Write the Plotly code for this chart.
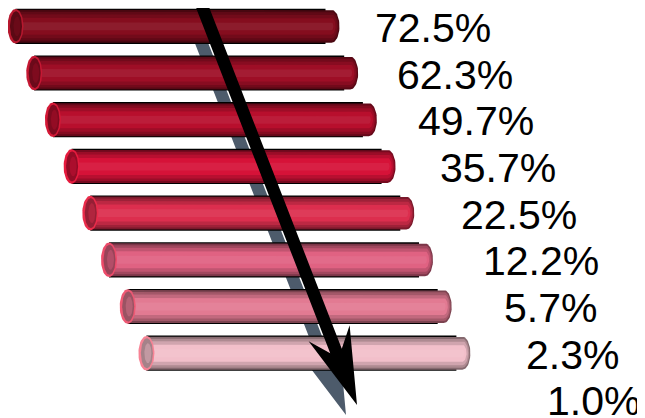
import numpy as np
import plotly.graph_objects as go

# ---- data ----
values = [72.5, 62.3, 49.7, 35.7, 22.5, 12.2, 5.7, 2.3, 1.0]
labels = [f"{v:.1f}%" for v in values]
n_bars = 8  # only the first eight rows carry a cylinder

# ---- styles ----
bar_colors = ["#850d1e", "#9e0e26", "#b80f2d", "#d61238", "#dc2e4e",
              "#e06282", "#e27a92", "#f2bfca"]
W, H = 645, 418
PAGE_M = 8  # default body margin of the html page
row0, row_step = 26.3, 46.7
left0, left_step = 7.5, 18.7
bar_len = 332
cap_rx = 8
label_x0, label_step = 373, 21.5


def hex2rgb(h):
    h = h.lstrip("#")
    return np.array([int(h[i:i + 2], 16) for i in (0, 2, 4)], float)


def mix(c, other, t):
    a = hex2rgb(c)
    b = np.array(other, float)
    r = a * (1 - t) + b * t
    return "rgb(%d,%d,%d)" % tuple(np.clip(r, 0, 255).round())


def ellipse(cx, cy, rx, ry, n=60):
    t = np.linspace(0, 2 * np.pi, n)
    return list(cx + rx * np.cos(t)), list(cy + ry * np.sin(t))


def body(cx, rc, yc, h, rx):
    t = np.linspace(-np.pi / 2, np.pi / 2, 30)
    xs = [cx] + list(rc + rx * np.cos(t)) + [cx, cx]
    ys = [yc - h] + list(yc + h * np.sin(t)) + [yc + h, yc - h]
    return xs, ys


def poly_trace(xs, ys, color):
    return go.Scatter(x=xs, y=ys, mode="lines", fill="toself",
                      fillcolor=color, line=dict(width=0, color=color),
                      hoverinfo="skip", showlegend=False)


fig = go.Figure()

# ---- arrow geometry ----
S = np.array([202.0, 6.0])
T = np.array([357.0, 405.0])
u = (T - S) / np.linalg.norm(T - S)
nrm = np.array([u[1], -u[0]])
hw = 6.2
L = np.linalg.norm(T - S)


def arrow_pts(off):
    pts = [
        S + hw * nrm,
        S + (L - 58) * u + hw * nrm,
        S + (L - 77) * u + 22 * nrm,
        T,
        S + (L - 77) * u - 22 * nrm,
        S + (L - 58) * u - hw * nrm,
        S - hw * nrm,
        S + hw * nrm,
    ]
    pts = [p + off for p in pts]
    return [p[0] for p in pts], [p[1] for p in pts]


# shadow (behind bars)
sx, sy = arrow_pts(np.array([-11.0, 10.0]))
fig.add_trace(poly_trace(sx, sy, "#4d5b6b"))

# ---- cylinders ----
layers = [(16.5, 0.45, 0), (14.5, 0.28, 0), (12.0, 0.14, 0), (8.5, 0.0, 0), (4.0, 0.06, 1)]
for i in range(n_bars):
    c = bar_colors[i]
    yc = row0 + row_step * i
    left = left0 + left_step * i
    cx = left + cap_rx
    rc = left + bar_len - cap_rx
    # black top/bottom edge lines
    fig.add_trace(poly_trace([cx, rc - 6, rc - 6, cx, cx],
                             [yc - 17.6, yc - 17.6, yc + 17.6, yc + 17.6, yc - 17.6],
                             "#000000"))
    for h, t, kind in layers:
        col = mix(c, (255, 255, 255) if kind else (0, 0, 0), t)
        xs, ys = body(cx, rc, yc, h, cap_rx * h / 16.5)
        fig.add_trace(poly_trace(xs, ys, col))
    # left open end
    ex, ey = ellipse(cx, yc, cap_rx, 17.3)
    fig.add_trace(poly_trace(ex, ey, mix(c, (255, 40, 70), 0.4)))
    ex, ey = ellipse(cx + 0.5, yc, cap_rx - 2, 15.0)
    fig.add_trace(poly_trace(ex, ey, mix(c, (0, 0, 0), 0.32)))
    ex, ey = ellipse(cx + 1.5, yc, cap_rx - 4.5, 10.0)
    fig.add_trace(poly_trace(ex, ey, mix(c, (0, 0, 0), 0.2)))

# arrow (in front)
ax_, ay_ = arrow_pts(np.array([0.0, 0.0]))
fig.add_trace(poly_trace(ax_, ay_, "#000000"))

# ---- labels ----
for i, lab in enumerate(labels):
    fig.add_annotation(x=label_x0 + label_step * i, y=row0 + row_step * i + 1.5,
                       text=lab, showarrow=False, xanchor="left", yanchor="middle",
                       xref="x", yref="y",
                       font=dict(family="Liberation Sans, Arial, sans-serif",
                                 size=41, color="#000000"))

fig.update_layout(
    width=W - PAGE_M, height=H - PAGE_M, margin=dict(l=0, r=0, t=0, b=0),
    paper_bgcolor="white", plot_bgcolor="white", showlegend=False,
    xaxis=dict(range=[PAGE_M, W], visible=False, fixedrange=True),
    yaxis=dict(range=[H, PAGE_M], visible=False, fixedrange=True),
)
fig.write_html("out.html")
